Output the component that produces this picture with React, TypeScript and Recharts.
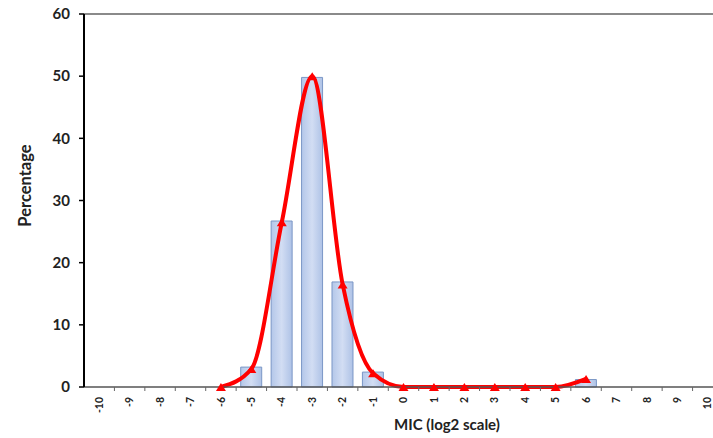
import React from 'react';
import { ComposedChart, Bar, Line, XAxis, YAxis, ReferenceLine } from 'recharts';

const categories: number[] = [-10, -9, -8, -7, -6, -5, -4, -3, -2, -1, 0, 1, 2, 3, 4, 5, 6, 7, 8, 9, 10];
const barValues: (number | null)[] = [null, null, null, null, null, 3.2, 26.7, 49.8, 16.9, 2.4, null, null, null, null, null, null, 1.2, null, null, null, null];
const curveValues: (number | null)[] = [null, null, null, null, 0, 2.9, 26.5, 50, 16.5, 2.2, 0, 0, 0, 0, 0, 0, 1.3, null, null, null, null];
const yTicks: number[] = [0, 10, 20, 30, 40, 50, 60];

const data = categories.map((c, i) => ({ mic: String(c), bar: barValues[i], curve: curveValues[i] }));

const FONT = 'Lato, "Liberation Sans", sans-serif';

const XTick = (props: any) => {
  const { x, y, payload } = props;
  const half = payload && payload.offset ? payload.offset : 0;
  return (
    <g>
      <line x1={x + half} x2={x + half} y1={y} y2={y + 4} stroke="#666" strokeWidth={1} />
      <text
        transform={`translate(${x},${y + 10}) rotate(-90)`}
        textAnchor="end"
        dy="0.35em"
        fontSize={10.5}
        fontWeight={700}
        fontFamily={FONT}
        fill="#222"
      >
        {payload.value}
      </text>
    </g>
  );
};

const TriDot = (props: any) => {
  const { cx, cy, index, value } = props;
  if (value == null || cx == null || cy == null) return <g key={`d${index}`} />;
  const w = 5;
  const h = 8;
  return (
    <polygon
      key={`d${index}`}
      points={`${cx - w},${cy + h / 2} ${cx + w},${cy + h / 2} ${cx},${cy - h / 2}`}
      fill="#ff0000"
    />
  );
};

export default function App() {
  return (
    <div style={{ position: 'absolute', left: 0, top: 0, width: 713, height: 438, overflow: 'hidden', background: '#fff' }}>
      <ComposedChart
        width={740}
        height={438}
        data={data}
        margin={{ top: 14, right: 17, bottom: 0, left: 0 }}
        barCategoryGap="15%"
      >
        <defs>
          <linearGradient id="barGrad" x1="0" y1="0" x2="1" y2="0">
            <stop offset="0%" stopColor="#b4c7e9" />
            <stop offset="50%" stopColor="#d2ddf3" />
            <stop offset="100%" stopColor="#aec2e6" />
          </linearGradient>
        </defs>
        <ReferenceLine y={60} stroke="#8a8a8a" strokeWidth={2} />
        <XAxis
          dataKey="mic"
          height={51}
          interval={0}
          tickSize={0}
          tickMargin={0}
          axisLine={{ stroke: '#555', strokeWidth: 1.5 }}
          tickLine={false}
          tick={<XTick />}
          label={{
            content: (p: any) => {
              const vb = p.viewBox || { x: 84, y: 387 };
              return (
                <text
                  x={vb.x + 363}
                  y={430}
                  textAnchor="middle"
                  fontSize={15}
                  fontWeight={700}
                  fontFamily={FONT}
                  fill="#222"
                >
                  MIC (log2 scale)
                </text>
              );
            },
          }}
        />
        <YAxis
          width={84}
          domain={[0, 60]}
          ticks={yTicks}
          interval={0}
          tickSize={5}
          tickMargin={9}
          axisLine={{ stroke: '#000', strokeWidth: 2 }}
          tickLine={{ stroke: '#000', strokeWidth: 1.5 }}
          tick={{ fontSize: 15, fontWeight: 700, fontFamily: FONT, fill: '#222' }}
          label={{
            content: (p: any) => {
              const vb = p.viewBox || { x: 0, y: 14, height: 373 };
              const cy = vb.y + vb.height / 2 - 15;
              return (
                <text
                  x={25}
                  y={cy}
                  transform={`rotate(-90, 25, ${cy})`}
                  textAnchor="middle"
                  dominantBaseline="central"
                  fontSize={16.5}
                  fontWeight={700}
                  fontFamily={FONT}
                  fill="#222"
                >
                  Percentage
                </text>
              );
            },
          }}
        />
        <Bar dataKey="bar" fill="url(#barGrad)" stroke="#7b97c6" strokeWidth={1} isAnimationActive={false} />
        <Line
          dataKey="curve"
          type="monotone"
          stroke="#ff0000"
          strokeWidth={4}
          dot={TriDot}
          activeDot={false}
          connectNulls={false}
          isAnimationActive={false}
        />
      </ComposedChart>
    </div>
  );
}
